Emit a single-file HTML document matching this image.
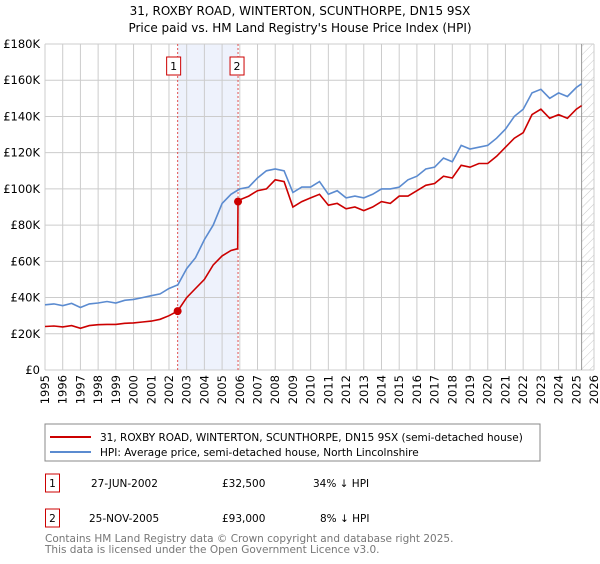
<!DOCTYPE html>
<html><head><meta charset="utf-8"><style>
body{margin:0;background:#fff;font-family:"DejaVu Sans","Liberation Sans",sans-serif;}
svg text{font-family:"DejaVu Sans","Liberation Sans",sans-serif;}
</style></head><body>
<svg id="chart" width="600" height="560" xmlns="http://www.w3.org/2000/svg">
<defs><pattern id="hatch" width="6" height="6" patternUnits="userSpaceOnUse" patternTransform="rotate(45)"><line x1="0" y1="0" x2="0" y2="6" stroke="#bbb" stroke-width="0.8"/></pattern></defs>
<text x="300" y="15" text-anchor="middle" font-size="12">31, ROXBY ROAD, WINTERTON, SCUNTHORPE, DN15 9SX</text>
<text x="300" y="32" text-anchor="middle" font-size="12">Price paid vs. HM Land Registry's House Price Index (HPI)</text>
<g id="grid"></g><g id="marks"></g><g id="axes"></g>
<rect x="45" y="424" width="495" height="37" fill="#fff" stroke="#888"/>
<line x1="50" y1="437" x2="91" y2="437" stroke="#cc0000" stroke-width="2"/>
<text x="100" y="441" font-size="10.5">31, ROXBY ROAD, WINTERTON, SCUNTHORPE, DN15 9SX (semi-detached house)</text>
<line x1="50" y1="452" x2="91" y2="452" stroke="#5b8bd0" stroke-width="2"/>
<text x="100" y="456" font-size="10.5">HPI: Average price, semi-detached house, North Lincolnshire</text>
<g font-size="10.5">
<rect x="45.5" y="474" width="14" height="18" fill="#fff" stroke="#cc0000"/><text x="52.5" y="487" text-anchor="middle">1</text>
<text x="91" y="487">27-JUN-2002</text><text x="222" y="487">£32,500</text><text x="313" y="487">34% ↓ HPI</text></g>
<g font-size="10.5">
<rect x="45.5" y="509" width="14" height="18" fill="#fff" stroke="#cc0000"/><text x="52.5" y="522" text-anchor="middle">2</text>
<text x="89" y="522">25-NOV-2005</text><text x="222" y="522">£93,000</text><text x="320" y="522">8% ↓ HPI</text></g>
<text x="45" y="542" font-size="10.5" fill="#777">Contains HM Land Registry data © Crown copyright and database right 2025.</text>
<text x="45" y="553" font-size="10.5" fill="#777">This data is licensed under the Open Government Licence v3.0.</text>
</svg>
<script>
const hpiT=[1995,1995.5,1996,1996.5,1997,1997.5,1998,1998.5,1999,1999.5,2000,2000.5,2001,2001.5,2002,2002.5,2003,2003.5,2004,2004.5,2005,2005.5,2006,2006.5,2007,2007.5,2008,2008.5,2009,2009.5,2010,2010.5,2011,2011.5,2012,2012.5,2013,2013.5,2014,2014.5,2015,2015.5,2016,2016.5,2017,2017.5,2018,2018.5,2019,2019.5,2020,2020.5,2021,2021.5,2022,2022.5,2023,2023.5,2024,2024.5,2025,2025.3];
const hpiV=[36,36.5,35.5,36.8,34.5,36.5,37,37.8,37,38.5,39,40,41,42,45,47,56,62,72,80,92,97,100,101,106,110,111,110,98,101,101,104,97,99,95,96,95,97,100,100,101,105,107,111,112,117,115,124,122,123,124,128,133,140,144,153,155,150,153,151,156,158];
const priceT=[1995,1995.5,1996,1996.5,1997,1997.5,1998,1998.5,1999,1999.5,2000,2000.5,2001,2001.5,2002,2002.49,2003,2003.5,2004,2004.5,2005,2005.5,2005.88,2005.9,2006,2006.5,2007,2007.5,2008,2008.5,2009,2009.5,2010,2010.5,2011,2011.5,2012,2012.5,2013,2013.5,2014,2014.5,2015,2015.5,2016,2016.5,2017,2017.5,2018,2018.5,2019,2019.5,2020,2020.5,2021,2021.5,2022,2022.5,2023,2023.5,2024,2024.5,2025,2025.3];
const priceV=[24,24.3,23.8,24.5,23,24.5,25,25.2,25.2,25.8,26,26.5,27,28,30,32.5,40,45,50,58,63,66,67,93,94,96,99,100,105,104,90,93,95,97,91,92,89,90,88,90,93,92,96,96,99,102,103,107,106,113,112,114,114,118,123,128,131,141,144,139,141,139,144,146];
const saleT=[2002.49,2005.9];
const saleV=[32.5,93];
const saleLabels=["1","2"];
const yTicks=[0,20,40,60,80,100,120,140,160,180];
const yTickLabels=["£0","£20K","£40K","£60K","£80K","£100K","£120K","£140K","£160K","£180K"];
const xYears=[1995,1996,1997,1998,1999,2000,2001,2002,2003,2004,2005,2006,2007,2008,2009,2010,2011,2012,2013,2014,2015,2016,2017,2018,2019,2020,2021,2022,2023,2024,2025,2026];
const dataEnd=2025.3;

const X0=45,X1=594,Y0=370,Y1=44;
const sx=t=>X0+(t-1995)/(2026-1995)*(X1-X0);
const sy=v=>Y0-v/180*(Y0-Y1);
const NS="http://www.w3.org/2000/svg";
function mk(tag,at,parent){const e=document.createElementNS(NS,tag);for(const k in at)e.setAttribute(k,at[k]);parent.appendChild(e);return e;}
const grid=document.getElementById('grid'),marks=document.getElementById('marks'),axes=document.getElementById('axes');
// shaded region between sales
let r=mk('rect',{x:sx(saleT[0]),y:Y1,width:sx(saleT[1])-sx(saleT[0]),height:Y0-Y1,fill:'#eef2fc'},grid);


let h=mk('rect',{x:sx(dataEnd),y:Y1,width:X1-sx(dataEnd),height:Y0-Y1,fill:'url(#hatch)'},grid);


yTicks.forEach((v,i)=>{
  let l=mk('line',{x1:X0,x2:X1,y1:sy(v),y2:sy(v),stroke:'#ccc','stroke-width':1},grid);
  
  
  let t=mk('text',{x:X0-5,y:sy(v)+4,'text-anchor':'end','font-size':11.5},axes);
  t.textContent=yTickLabels[i];
  
  
});
xYears.forEach(y=>{
  let l=mk('line',{x1:sx(y),x2:sx(y),y1:Y1,y2:Y0,stroke:'#ccc','stroke-width':1},grid);
  
  
  let t=mk('text',{x:0,y:0,'text-anchor':'end','font-size':11.5,transform:`translate(${sx(y)+4},${Y0+5}) rotate(-90)`},axes);
  t.textContent=y;
  
  
});
let el=mk('line',{x1:sx(dataEnd),x2:sx(dataEnd),y1:Y1,y2:Y0,stroke:'#999','stroke-width':1},grid);


saleT.forEach((t,i)=>{
  let l=mk('line',{x1:sx(t),x2:sx(t),y1:Y1,y2:Y0,stroke:'#e05050','stroke-width':1,'stroke-dasharray':'2,2'},grid);
  
  
  let b=mk('rect',{x:sx(t)-8-(i==0?3:0),y:57,width:14,height:18,fill:'#fff',stroke:'#cc0000'},axes);
  
  
  let tx=mk('text',{x:sx(t)-1-(i==0?3:0),y:70,'text-anchor':'middle','font-size':11},axes);
  tx.textContent=saleLabels[i];
  
  
});
const pts=(T,V)=>T.map((t,i)=>sx(t).toFixed(1)+','+sy(V[i]).toFixed(1)).join(' ');
let hp=mk('polyline',{points:pts(hpiT,hpiV),fill:'none',stroke:'#5b8bd0','stroke-width':1.6},marks);


let pp=mk('polyline',{points:pts(priceT,priceV),fill:'none',stroke:'#cc0000','stroke-width':1.6},marks);


saleT.forEach((t,i)=>{
  let c=mk('circle',{cx:sx(t),cy:sy(saleV[i]),r:4,fill:'#cc0000'},marks);
  
  
});
</script>
</body></html>
